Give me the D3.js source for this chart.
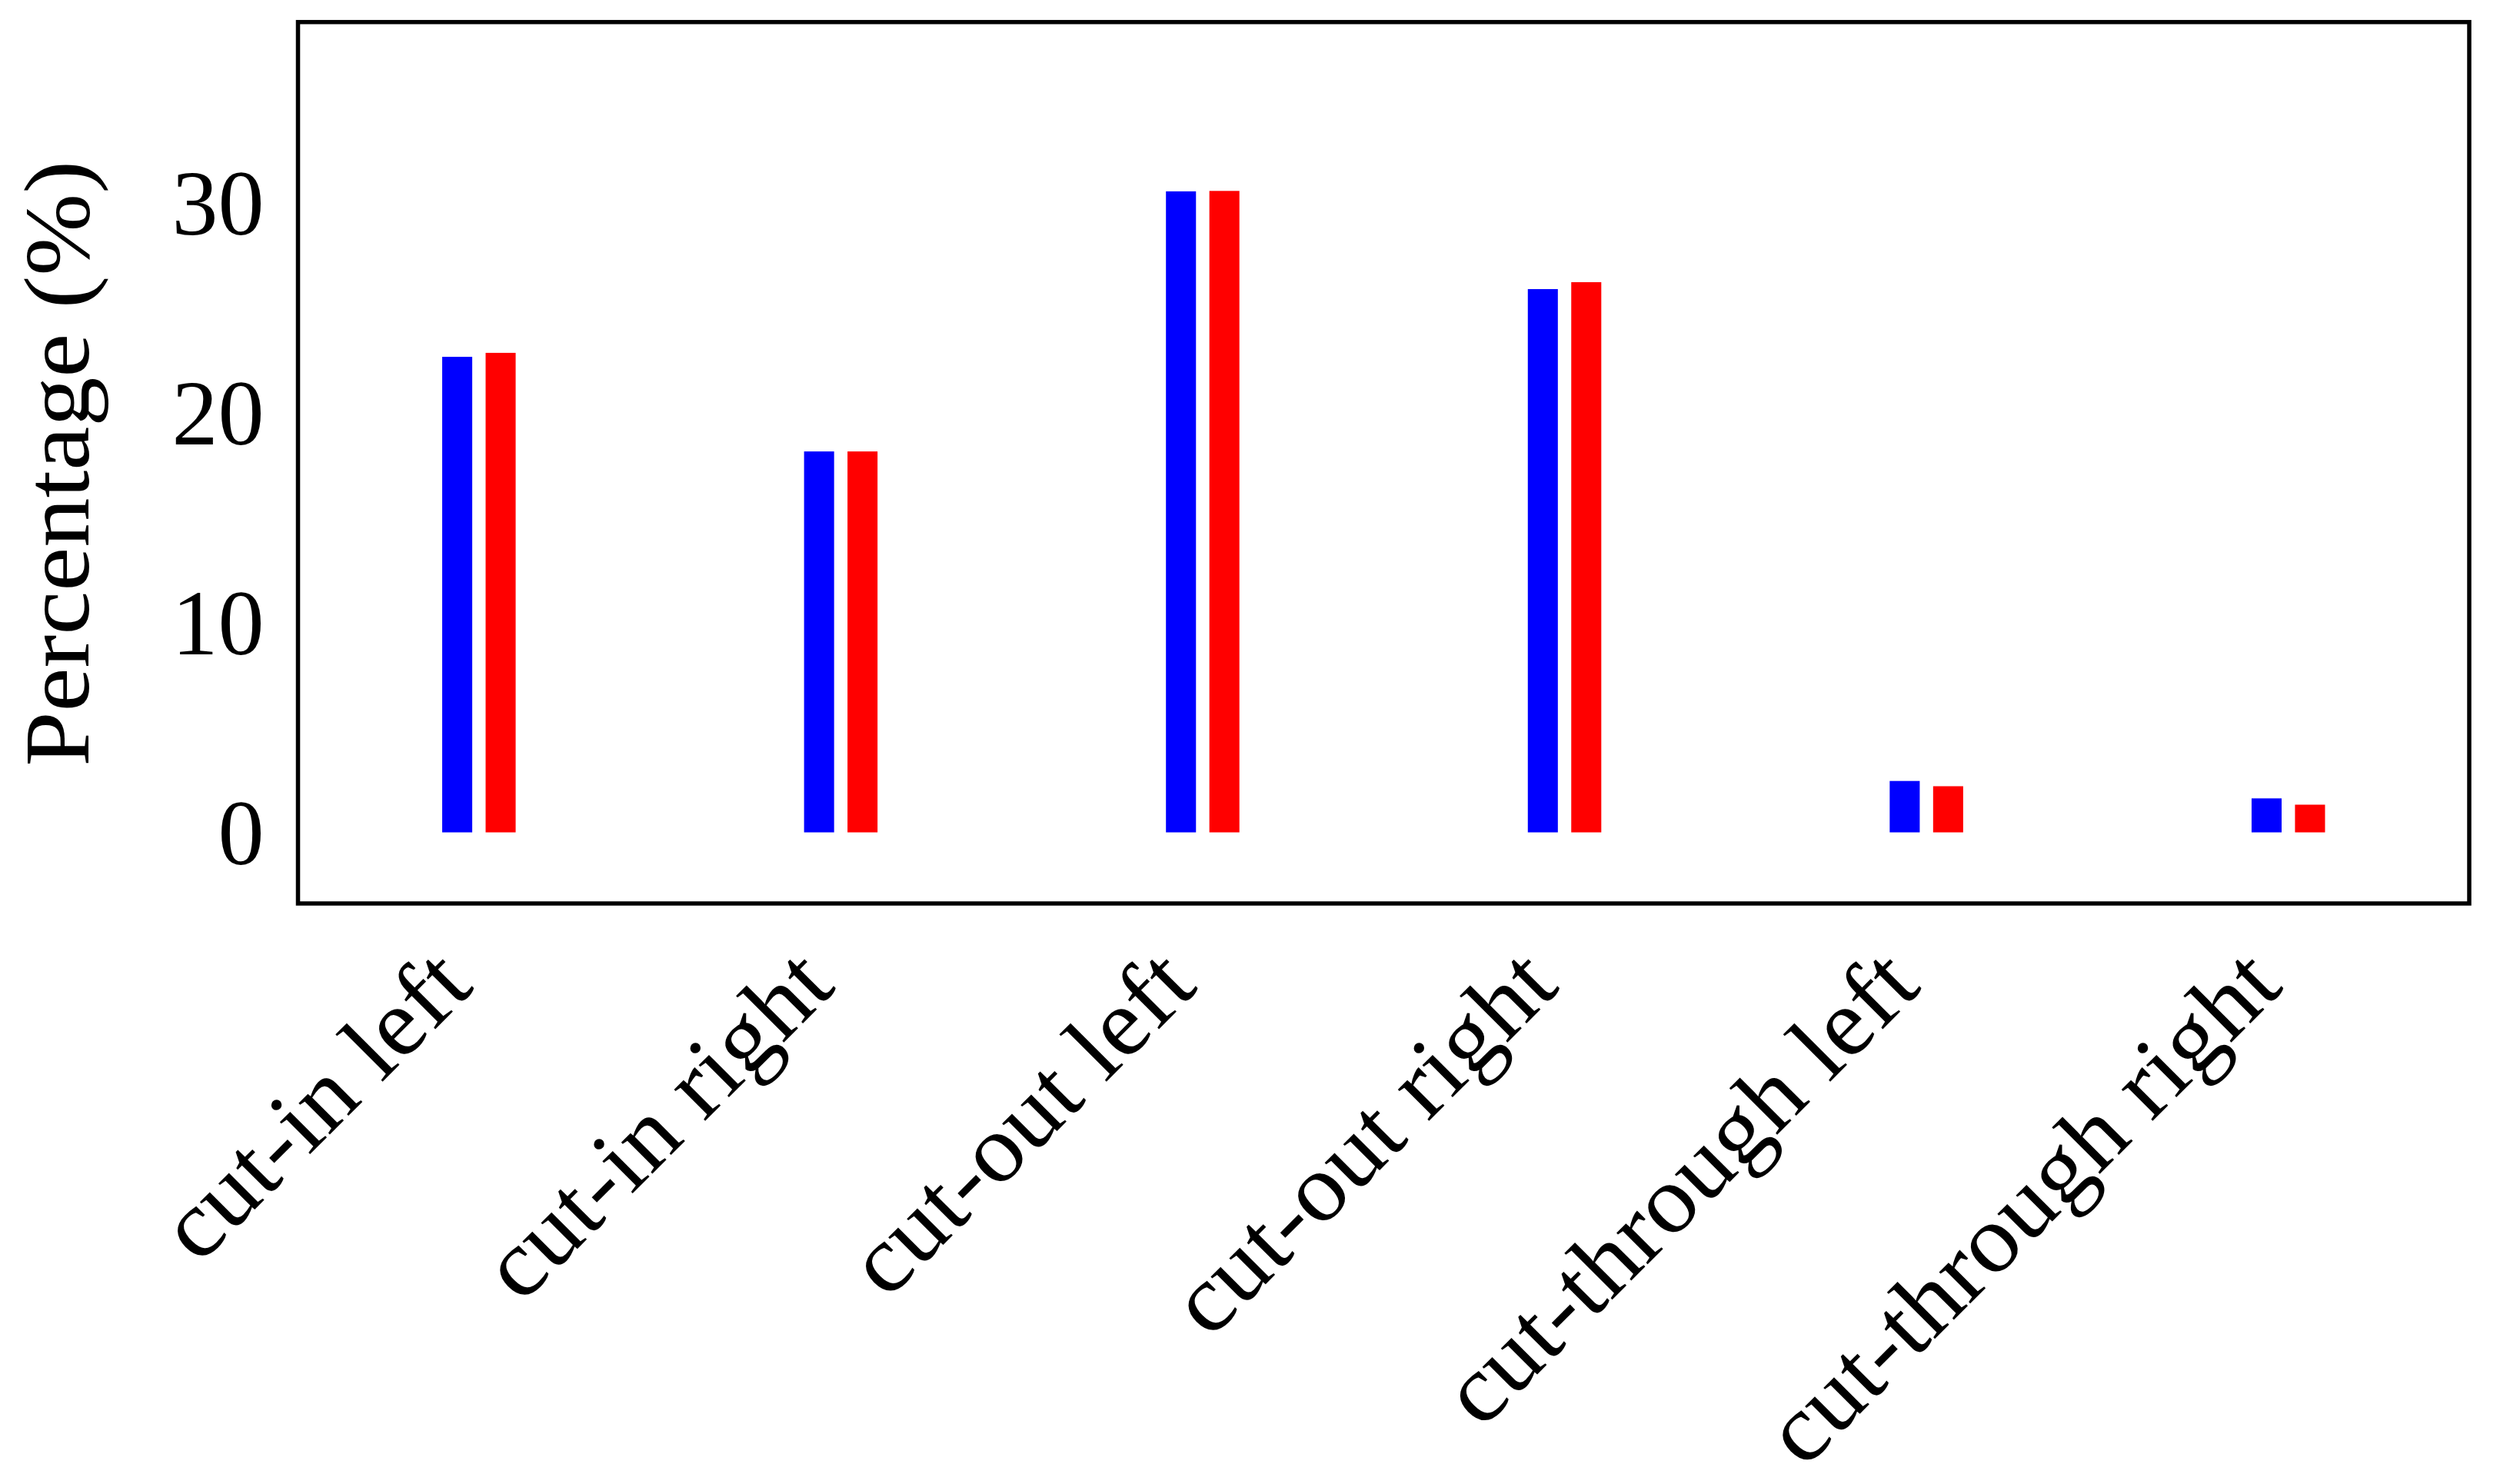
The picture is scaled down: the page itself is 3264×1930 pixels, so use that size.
<!DOCTYPE html>
<html>
<head>
<meta charset="utf-8">
<script src="https://cdn.jsdelivr.net/npm/d3@7"></script>
<style>
  html, body { margin: 0; padding: 0; background: #ffffff; }
  svg { display: block; }
  text { font-family: "Liberation Serif", "DejaVu Serif", serif; fill: #000; }
</style>
</head>
<body>
<svg id="chart" width="3264" height="1930"></svg>
<script>
// ---- data ----
const categories = ["cut-in left", "cut-in right", "cut-out left", "cut-out right", "cut-through left", "cut-through right"];
const seriesBlue = [22.67, 18.16, 30.56, 25.90, 2.45, 1.62];
const seriesRed  = [22.86, 18.16, 30.58, 26.23, 2.20, 1.32];
const seriesColors = ["#0000ff", "#ff0000"];
const yTicks = [0, 10, 20, 30];
const yLabel = "Percentage (%)";

// ---- layout ----
const W = 3264, H = 1930;
const plot = { left: 387.5, right: 3211, top: 28.7, bottom: 1175 };
const fontSize = 120;
const xFontSize = 125;
const stretch = 1.04;

const svg = d3.select("#chart");
svg.append("rect").attr("width", W).attr("height", H).attr("fill", "#fff");

const x = d3.scaleLinear().domain([-0.5, categories.length - 0.5]).range([plot.left, plot.right]);
const y = d3.scaleLinear().domain([-3.39, 38.63]).range([plot.bottom, plot.top]);

const barW = 0.083;   // in category units
const offset = 0.06;  // centre offset of each bar from the category centre

const series = [seriesBlue, seriesRed];
series.forEach((vals, si) => {
  svg.append("g").selectAll("rect")
    .data(vals)
    .join("rect")
    .attr("x", (d, i) => x(i + (si === 0 ? -offset : offset) - barW / 2))
    .attr("width", (d, i) => x(barW) - x(0))
    .attr("y", d => y(d))
    .attr("height", d => y(0) - y(d))
    .attr("fill", seriesColors[si]);
});

// y axis (labels only, no tick marks)
const yAxis = d3.axisLeft(y).tickValues(yTicks).tickSize(0).tickPadding(44).tickFormat(d3.format("d"));
const gy = svg.append("g").attr("transform", `translate(${plot.left},0)`).call(yAxis);
gy.select(".domain").remove();
gy.selectAll("text")
  .attr("font-family", "Liberation Serif, serif")
  .attr("font-size", fontSize)
  .attr("dy", "0.34em");

// x axis labels rotated 45 degrees
const xAxis = d3.axisBottom(x).tickValues(d3.range(categories.length)).tickSize(0).tickFormat(i => categories[i]);
const gx = svg.append("g").attr("transform", `translate(0,${plot.bottom})`).call(xAxis);
gx.select(".domain").remove();
gx.selectAll("text")
  .attr("font-family", "Liberation Serif, serif")
  .attr("font-size", xFontSize)
  .attr("text-anchor", "end")
  .attr("x", 0).attr("y", 0).attr("dy", 0)
  .attr("transform", "translate(-5,111) rotate(-45)")
  .each(function () {
    const L = this.getComputedTextLength();
    d3.select(this).attr("textLength", L * stretch).attr("lengthAdjust", "spacingAndGlyphs");
  });

// y axis title
const yt = svg.append("text")
  .attr("transform", `translate(115,603) rotate(-90)`)
  .attr("text-anchor", "middle")
  .attr("font-size", fontSize)
  .text(yLabel);
yt.attr("textLength", yt.node().getComputedTextLength() * 1.07).attr("lengthAdjust", "spacingAndGlyphs");

// frame
svg.append("rect")
  .attr("x", plot.left).attr("y", plot.top)
  .attr("width", plot.right - plot.left).attr("height", plot.bottom - plot.top)
  .attr("fill", "none").attr("stroke", "#000").attr("stroke-width", 5.5);
</script>
</body>
</html>
